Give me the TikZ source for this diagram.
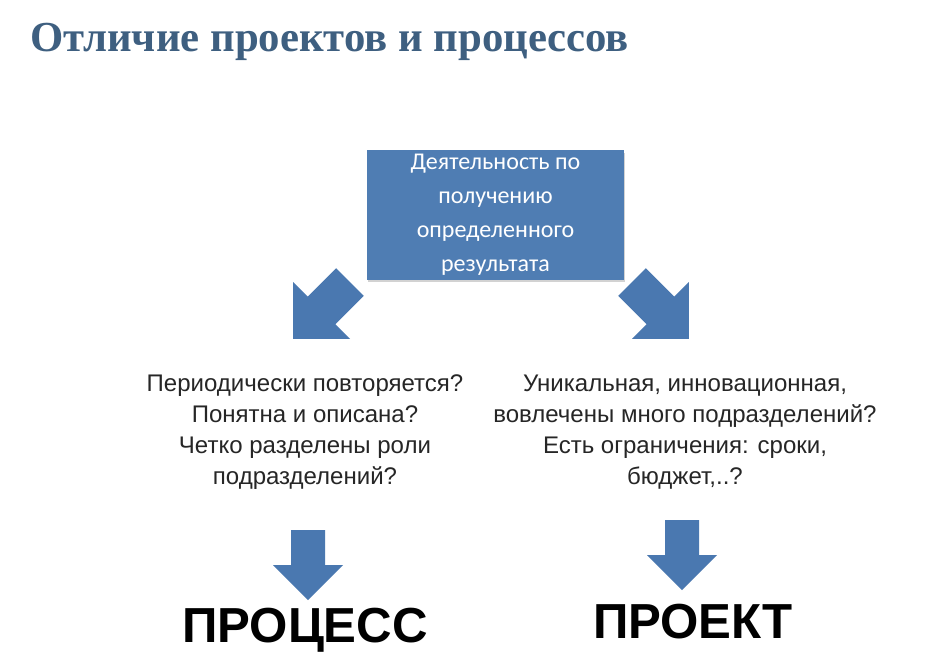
\documentclass[tikz,border=0pt]{standalone}
\usepackage{fontspec}
\setmainfont{Liberation Sans}
\newfontfamily\titlefont{Liberation Serif}
\newfontfamily\boxfont{Carlito}
\usetikzlibrary{shadows}
\definecolor{titleblue}{HTML}{3E5F80}
\definecolor{boxblue}{HTML}{4F7DB3}
\definecolor{arrowblue}{HTML}{4A78B0}
\tikzset{
  qtext/.style={align=center, font=\fontsize{20.5}{26.5}\selectfont, text=black!85},
  bigtext/.style={font=\fontsize{42}{46}\selectfont\bfseries, text=black},
}
\newcommand{\downarrowshape}[1]{%
  \begin{scope}[#1]
  \fill[arrowblue] (-17,0) -- (17,0) -- (17,35) -- (35,35) -- (0,70) -- (-35,35) -- (-17,35) -- cycle;
  \end{scope}}
\begin{document}
\begin{tikzpicture}[x=0.03cm,y=-0.03cm]
\useasboundingbox (0,0) rectangle (944,670);
\fill[white] (0,0) rectangle (944,670);
\node[anchor=west, font=\titlefont\fontsize{36.5}{40}\selectfont\bfseries, text=titleblue] (title) at (26,42) {Отличие проектов и процессов};
\node[fill=boxblue, minimum width=257*0.03cm, minimum height=120*0.03cm, text=white, align=center,
  font=\boxfont\fontsize{20.5}{29}\selectfont, drop shadow={opacity=0.35, shadow xshift=1pt, shadow yshift=-2pt}] (box) at (495.5,215)
  {Деятельность по\\получению\\определенного\\результата};
\downarrowshape{shift={(350,282)}, rotate=-45, scale=1.15}
\downarrowshape{shift={(632,282)}, rotate=45, scale=1.15}
\node[qtext] (left) at (305,432) {Периодически повторяется?\\Понятна и описана?\\Четко разделены роли\\подразделений?};
\node[qtext] (right) at (685,432) {Уникальная, инновационная,\\вовлечены много подразделений?\\Есть ограничения: сроки,\\бюджет,..?};
\downarrowshape{shift={(308,530)}}
\downarrowshape{shift={(682,520)}}
\node[bigtext] (process) at (305,630) {ПРОЦЕСС};
\node[bigtext] (project) at (693,622) {ПРОЕКТ};
\end{tikzpicture}
\end{document}
